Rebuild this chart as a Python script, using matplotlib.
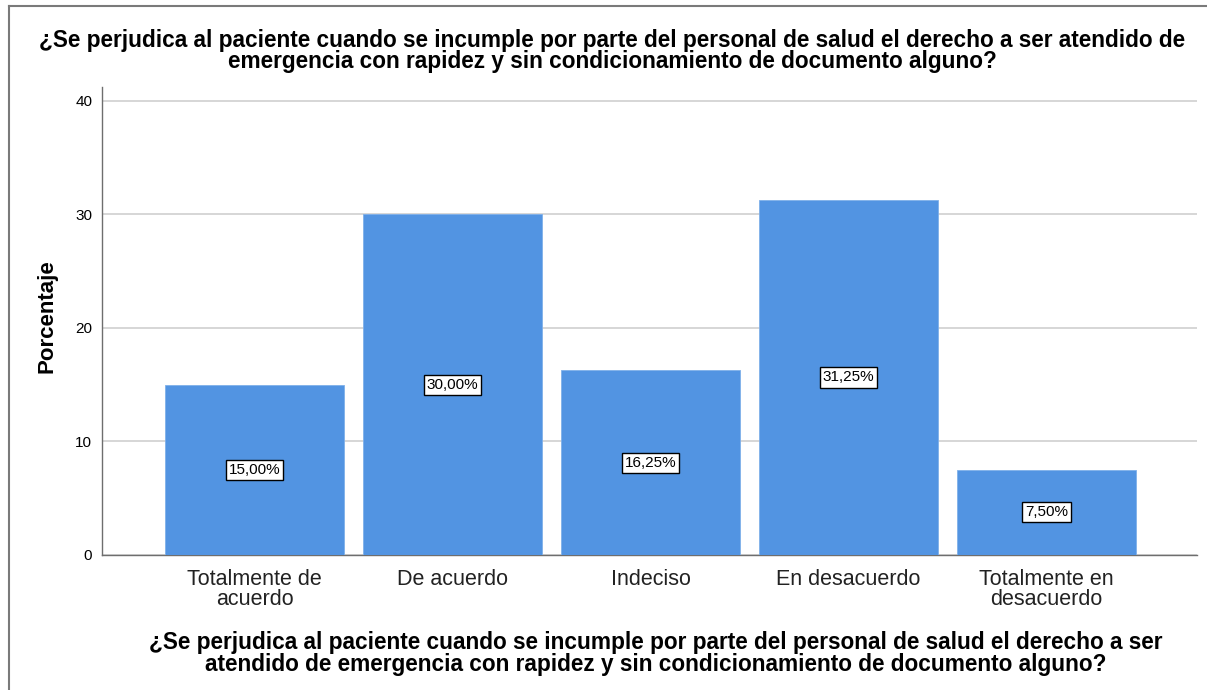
import matplotlib.pyplot as plt
from matplotlib.lines import Line2D

# datos
categorias = ["Totalmente de\nacuerdo", "De acuerdo", "Indeciso", "En desacuerdo", "Totalmente en\ndesacuerdo"]
porcentajes = [15.00, 30.00, 16.25, 31.25, 7.50]
etiquetas = ["15,00%", "30,00%", "16,25%", "31,25%", "7,50%"]
yticks = [0, 10, 20, 30, 40]

titulo = ("¿Se perjudica al paciente cuando se incumple por parte del personal de salud el derecho a ser atendido de\n"
          "emergencia con rapidez y sin condicionamiento de documento alguno?")
xlabel = ("¿Se perjudica al paciente cuando se incumple por parte del personal de salud el derecho a ser\n"
          "atendido de emergencia con rapidez y sin condicionamiento de documento alguno?")

plt.rcParams['font.family'] = ['Liberation Sans', 'DejaVu Sans']

fig = plt.figure(figsize=(12.07, 6.9), dpi=100)
ax = fig.add_axes([0.0845, 0.1957, 0.9072, 0.6783])

x = list(range(len(categorias)))
ax.bar(x, porcentajes, width=0.9, color='#5294e2', edgecolor='#7fb0ea', linewidth=0.6, zorder=3)

for xi, v, t in zip(x, porcentajes, etiquetas):
    ax.text(xi, v / 2, t, ha='center', va='center', fontsize=11, zorder=4,
            bbox=dict(boxstyle='square,pad=0.2', fc='white', ec='black', lw=1.0))

ax.set_xlim(-0.77, 4.76)
ax.set_ylim(0, 41.2)
ax.set_yticks(yticks)
ax.yaxis.grid(True, color='#cfcfcf', linewidth=1.2, zorder=0)
ax.set_xticks(x)
ax.set_xticklabels(categorias, fontsize=15.5, color='#222222', linespacing=0.95)
ax.tick_params(axis='x', length=0, pad=10)
ax.tick_params(axis='y', length=0, labelsize=11, pad=7)
for s in ['top', 'right']:
    ax.spines[s].set_visible(False)
for s in ['left', 'bottom']:
    ax.spines[s].set_color('#6e6e6e')
    ax.spines[s].set_linewidth(1.0)

ax.set_ylabel('Porcentaje', fontsize=16, fontweight='bold')
ax.yaxis.set_label_coords(-0.041, 0.51)

fig.text(0.507, 0.926, titulo, ha='center', va='center', fontsize=16.3, fontweight='bold', linespacing=0.92)
fig.text(0.543, 0.053, xlabel, ha='center', va='center', fontsize=16.3, fontweight='bold', linespacing=0.92)

# marco exterior (solo arriba e izquierda)
fig.lines.append(Line2D([0.0075, 1.0], [0.9915, 0.9915], transform=fig.transFigure, color='#7a7a7a', lw=1.5))
fig.lines.append(Line2D([0.0075, 0.0075], [0.0, 0.9915], transform=fig.transFigure, color='#7a7a7a', lw=1.5))

fig.savefig('out.png', dpi=100)
